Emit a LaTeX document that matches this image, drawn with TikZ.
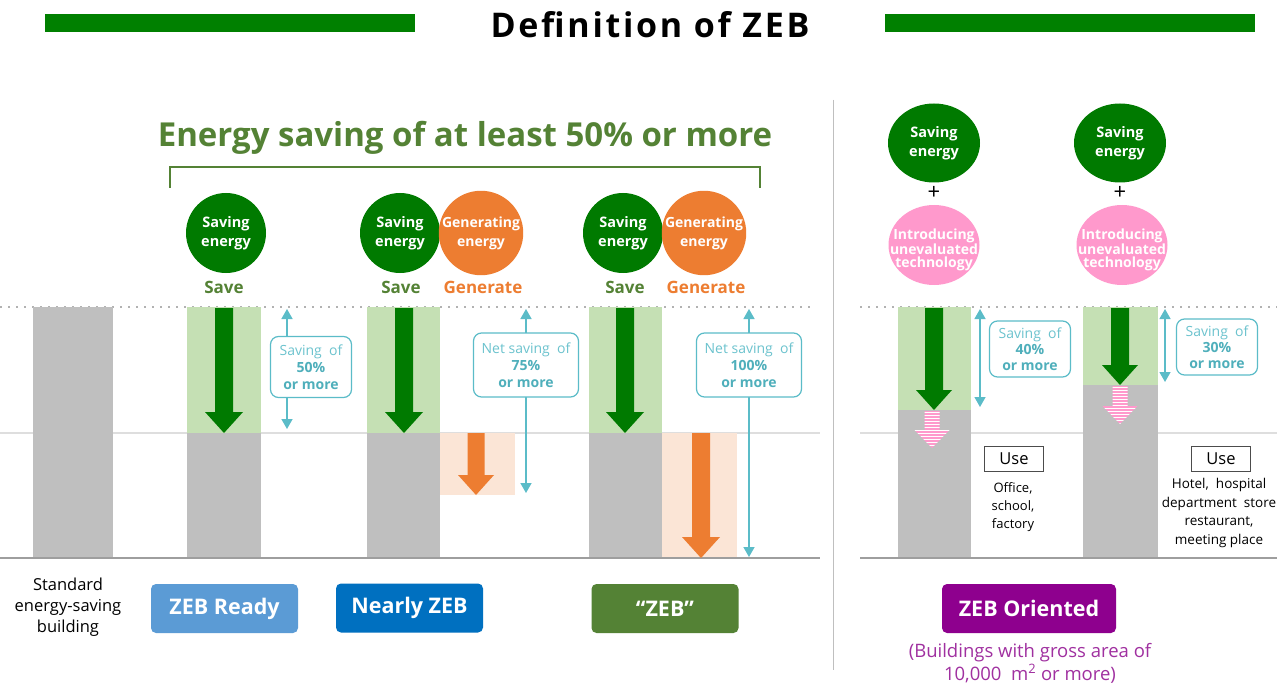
\documentclass[tikz,border=0pt]{standalone}
\usepackage{fontspec}
\setmainfont{Open Sans}
\usetikzlibrary{arrows.meta,shapes.geometric}
\definecolor{barG}{HTML}{008000}
\definecolor{dkG}{HTML}{007A00}
\definecolor{olive}{HTML}{548235}
\definecolor{orng}{HTML}{ED7D31}
\definecolor{ltG}{HTML}{C5E0B4}
\definecolor{ltO}{HTML}{FBE5D6}
\definecolor{grayB}{HTML}{BFBFBF}
\definecolor{tealL}{HTML}{5BBCC8}
\definecolor{tealT}{HTML}{6CC3CE}
\definecolor{tealD}{HTML}{4FAFBB}
\definecolor{pinkF}{HTML}{FF99CC}
\definecolor{ready}{HTML}{5B9BD5}
\definecolor{nearly}{HTML}{0070C0}
\definecolor{zebG}{HTML}{548235}
\definecolor{purp}{HTML}{8E008E}
\definecolor{purpT}{HTML}{A030A0}
\newcommand{\dnarr}[7]{\fill[#7] ({#1-#4},#2) -- ({#1+#4},#2) -- ({#1+#4},{#3-#6}) -- ({#1+#5},{#3-#6}) -- (#1,#3) -- ({#1-#5},{#3-#6}) -- ({#1-#4},{#3-#6}) -- cycle;}
\newcommand{\pinkarr}[6]{\begin{scope}
\clip ({#1-#4},#2) -- ({#1+#4},#2) -- ({#1+#4},{#3-#6}) -- ({#1+#5},{#3-#6}) -- (#1,#3) -- ({#1-#5},{#3-#6}) -- ({#1-#4},{#3-#6}) -- cycle;
\fill[pinkF] ({#1-20},#2) rectangle ({#1+20},#3);
\foreach \k in {0,...,13} \draw[white,line width=1pt] ({#1-20},{#2+1.5+3*\k}) -- ({#1+20},{#2+1.5+3*\k});
\end{scope}}
\tikzset{
 circbase/.style={circle, minimum size=80pt, inner sep=0pt, align=center, text=white, font=\bfseries\fontsize{14.5}{19}\selectfont},
 greenc/.style={circbase, fill=dkG},
 orangec/.style={circbase, fill=orng, font=\fontsize{14}{19}\selectfont\bfseries},
 greene/.style={ellipse, minimum width=92pt, minimum height=79pt, inner sep=0pt, fill=dkG, align=center, text=white, font=\bfseries\fontsize{14.5}{19}\selectfont},
 pinke/.style={ellipse, minimum width=91pt, minimum height=80pt, inner sep=0pt, fill=pinkF},
 pinktxt/.style={inner sep=0pt, align=center, text=white, font=\bfseries\fontsize{14}{13}\selectfont},
 savebox/.style={draw=tealL, line width=1.2pt, rounded corners=8pt, fill=white, align=center, text=tealT, font=\fontsize{14}{19}\selectfont, inner sep=0pt},
 dbl/.style={tealL, line width=1.4pt, {Triangle[width=11pt,length=10pt]}-{Triangle[width=11pt,length=10pt]}},
 labbox/.style={rounded corners=5pt, text=white, font=\bfseries\fontsize{21.5}{24}\selectfont, minimum width=147pt, minimum height=49pt, inner sep=0pt},
 usebox/.style={draw=black!70, line width=0.6pt, minimum width=59pt, minimum height=25pt, inner sep=0pt, font=\fontsize{16.5}{18}\selectfont},
 small/.style={align=center, font=\fontsize{13}{18}\selectfont, inner sep=0pt},
 dotline/.style={gray!60, line width=1.6pt, dash pattern=on 1.6pt off 6.4pt},
 midline/.style={black!13, line width=2pt},
 baseln/.style={black!38, line width=2pt}
}
\begin{document}
\begin{tikzpicture}[x=1pt,y=-1pt]
\useasboundingbox[fill=white] (0,0) rectangle (1277,687);
% title
\fill[barG] (45,14) rectangle (415,32);
\fill[barG] (885,14) rectangle (1255,32);
\node[font=\bfseries\fontsize{34}{38}\selectfont\addfontfeature{LetterSpace=8}] (title) at (650,25) {Definition of ZEB};
% divider
\draw[black!25, line width=1pt] (833,100) -- (833,670);
% heading
\node[text=olive, font=\bfseries\fontsize{33}{38}\selectfont] (head) at (465,138) {Energy saving of at least 50\% or more};
\draw[olive, line width=1.2pt] (170,188) -- (170,167) -- (760,167) -- (760,188);
% grid lines
\draw[dotline] (0,307) -- (812,307);
\draw[dotline] (860,307) -- (1277,307);
\draw[midline] (0,433) -- (820,433);
\draw[midline] (860,433) -- (1277,433);
% bars left
\fill[grayB] (33,307) rectangle (113,558);
\fill[ltG] (187,307) rectangle (261,433);
\fill[grayB] (187,433) rectangle (261,558);
\fill[ltG] (367,307) rectangle (440,433);
\fill[grayB] (367,433) rectangle (440,558);
\fill[ltO] (440,433) rectangle (515,495);
\fill[ltG] (589,307) rectangle (662,433);
\fill[grayB] (589,433) rectangle (662,558);
\fill[ltO] (662,433) rectangle (737,558);
% bars right
\fill[ltG] (898,307) rectangle (971,410);
\fill[grayB] (898,410) rectangle (971,558);
\fill[ltG] (1083,307) rectangle (1158,385);
\fill[grayB] (1083,385) rectangle (1158,558);
\draw[baseln] (0,558) -- (820,558);
\draw[baseln] (860,558) -- (1277,558);
% arrows
\dnarr{224}{308}{433}{9}{19}{21}{dkG}
\dnarr{404}{308}{433}{9}{19}{21}{dkG}
\dnarr{625}{308}{433}{9}{19}{21}{dkG}
\dnarr{476}{433}{495}{8.5}{18}{20}{orng}
\dnarr{701}{433}{558}{9}{19}{21}{orng}
\dnarr{934}{308}{410}{9}{18}{20}{dkG}
\dnarr{1120}{308}{385}{9}{18}{20}{dkG}
\pinkarr{932}{411}{448}{7.5}{17.5}{18}
\pinkarr{1120}{386}{424}{7.5}{17.5}{18}
% double arrows
\coordinate (d1t) at (287,309); \coordinate (d1b) at (287,429);
\coordinate (d2t) at (526,309); \coordinate (d2b) at (526,493);
\coordinate (d3t) at (749,309); \coordinate (d3b) at (749,557);
\coordinate (d4t) at (980,309); \coordinate (d4b) at (980,407);
\coordinate (d5t) at (1165,309); \coordinate (d5b) at (1165,382);
\draw[dbl] (d1t) -- (d1b);
\draw[dbl] (d2t) -- (d2b);
\draw[dbl] (d3t) -- (d3b);
\draw[dbl] (d4t) -- (d4b);
\draw[dbl] (d5t) -- (d5b);
% saving boxes
\node[savebox, minimum width=81pt, minimum height=61pt] (s50) at (311,367) {Saving\ \ of\\[-2pt]\textcolor{tealD}{\bfseries 50\%}\\[-2pt]\textcolor{tealD}{\bfseries or more}};
\node[savebox, minimum width=105pt, minimum height=64pt] (s75) at (526,365) {Net saving\ \ of\\[-2pt]\textcolor{tealD}{\bfseries 75\%}\\[-2pt]\textcolor{tealD}{\bfseries or more}};
\node[savebox, minimum width=105pt, minimum height=64pt] (s100) at (749,365) {Net saving\ \ of\\[-2pt]\textcolor{tealD}{\bfseries 100\%}\\[-2pt]\textcolor{tealD}{\bfseries or more}};
\node[savebox, minimum width=81pt, minimum height=56pt] (s40) at (1030,349) {Saving\ \ of\\[-3pt]\textcolor{tealD}{\bfseries 40\%}\\[-3pt]\textcolor{tealD}{\bfseries or more}};
\node[savebox, minimum width=81pt, minimum height=56pt] (s30) at (1217,347) {Saving\ \ of\\[-3pt]\textcolor{tealD}{\bfseries 30\%}\\[-3pt]\textcolor{tealD}{\bfseries or more}};
% circles
\node[greenc] (c1) at (226,233) {Saving\\energy};
\node[greenc] (c2) at (400,233) {Saving\\energy};
\node[orangec] (o2) at (481,233) {Generating\\energy};
\node[greenc] (c3) at (623,233) {Saving\\energy};
\node[orangec] (o3) at (704,233) {Generating\\energy};
\node[text=olive, font=\bfseries\fontsize{17}{20}\selectfont] (sv1) at (224,287) {Save};
\node[text=olive, font=\bfseries\fontsize{17}{20}\selectfont] (sv2) at (401,287) {Save};
\node[text=orng, font=\bfseries\fontsize{17}{20}\selectfont] (g2) at (483,287) {Generate};
\node[text=olive, font=\bfseries\fontsize{17}{20}\selectfont] (sv3) at (625,287) {Save};
\node[text=orng, font=\bfseries\fontsize{17}{20}\selectfont] (g3) at (706,287) {Generate};
% right circles
\node[greene] (rc1) at (934,143) {Saving\\energy};
\node[greene] (rc2) at (1120,143) {Saving\\energy};
\node[font=\fontsize{22}{22}\selectfont] (p1) at (934,193) {+};
\node[font=\fontsize{22}{22}\selectfont] (p2) at (1120,193) {+};
\node[pinke] (pk1) at (934,245) {};
\node[pinke] (pk2) at (1122,245) {};
\node[pinktxt] (pt1) at ([yshift=-5pt]pk1.center) {Introducing\\unevaluated\\technology};
\node[pinktxt] (pt2) at ([yshift=-5pt]pk2.center) {Introducing\\unevaluated\\technology};
% use boxes
\node[usebox] (u1) at (1014,459) {Use};
\node[usebox] (u2) at (1221,459) {Use};
\node[small, font=\fontsize{13}{18}\selectfont] (ut1) at (1013,507) {Office,\\school,\\factory};
\node[small, font=\fontsize{13.5}{18.5}\selectfont] (ut2) at (1219,513) {Hotel,\ \ hospital\\department\ \ store\\restaurant,\\meeting place};
% bottom labels
\node[small, font=\fontsize{16.5}{21}\selectfont] (std) at (68,607) {Standard\\energy-saving\\building};
\node[labbox, fill=ready] (zr) at (224.5,608.5) {\raisebox{-2pt}{ZEB Ready}};
\node[labbox, fill=nearly] (nz) at (409.5,608) {\raisebox{-2pt}{Nearly ZEB}};
\node[labbox, fill=zebG] (zz) at (665,608.5) {\raisebox{-2pt}{“ZEB”}};
\node[labbox, fill=purp, minimum width=174pt] (zo) at (1029,608.5) {\raisebox{-2pt}{ZEB Oriented}};
\node[small, text=purpT, font=\fontsize{18.5}{23}\selectfont] (cap) at (1030,663) {(Buildings with gross area of\\10,000\ \ m\textsuperscript{2} or more)};
\end{tikzpicture}
\end{document}
